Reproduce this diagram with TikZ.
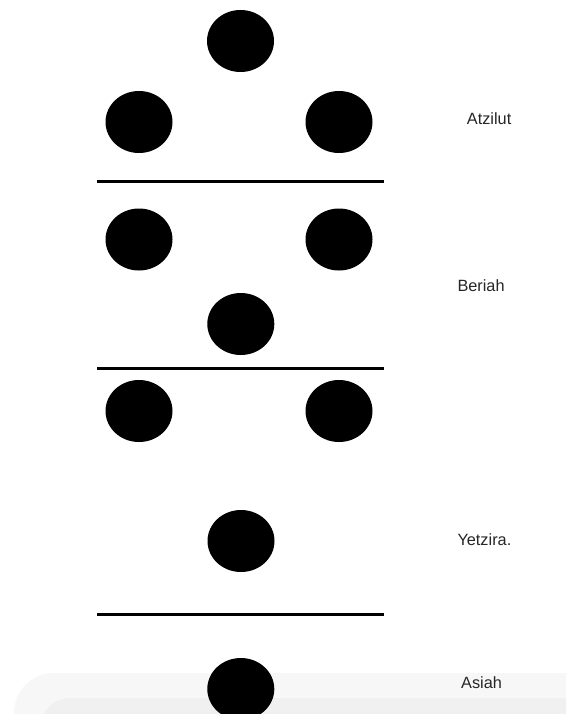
\documentclass[tikz,border=0pt]{standalone}
\usepackage{fontspec}
\setmainfont{Liberation Sans}
\usetikzlibrary{shapes.geometric}
\tikzset{
  sefira/.style={ellipse, fill=black, draw=none, minimum width=67pt, minimum height=62pt, inner sep=0pt},
  divider/.style={line width=3pt, black},
  world/.style={anchor=base west, inner sep=0pt, font=\fontsize{16.3}{18}\selectfont, text=black!85}
}
\begin{document}
\begin{tikzpicture}[x=1pt,y=-1pt]
\useasboundingbox (0,0) rectangle (566,714);
\fill[white] (0,0) rectangle (566,714);
% faint panel at the bottom
\begin{scope}
\clip (0,0) rectangle (566,714);
\fill[black!3, rounded corners=40pt] (14,673) rectangle (620,760);
\fill[black!6, rounded corners=30pt] (40,698) rectangle (620,760);
\end{scope}
% sefirot
\node[sefira] (keter) at (240.5,41) {};
\node[sefira] (chokhmah) at (339,122) {};
\node[sefira] (binah) at (139,122) {};
\node[sefira] (chesed) at (339,239.5) {};
\node[sefira] (gevurah) at (139,239.5) {};
\node[sefira] (tiferet) at (240.8,324) {};
\node[sefira] (netzach) at (339,411) {};
\node[sefira] (hod) at (139,411) {};
\node[sefira] (yesod) at (241,541) {};
\node[sefira] (malkhut) at (240.8,689) {};
% dividers
\coordinate (d1l) at (97,181.7); \coordinate (d1r) at (384,181.7);
\coordinate (d2l) at (97,368);   \coordinate (d2r) at (384,368);
\coordinate (d3l) at (97,614.7); \coordinate (d3r) at (384,614.7);
\draw[divider] (d1l) -- (d1r);
\draw[divider] (d2l) -- (d2r);
\draw[divider] (d3l) -- (d3r);
% labels
\node[world] (atzilut) at (466.7,124.3) {Atzilut};
\node[world] (beriah) at (457.3,291.7) {Beriah};
\node[world] (yetzira) at (457.3,545) {Yetzira.};
\node[world] (asiah) at (461,688.3) {Asiah};
\end{tikzpicture}
\end{document}
